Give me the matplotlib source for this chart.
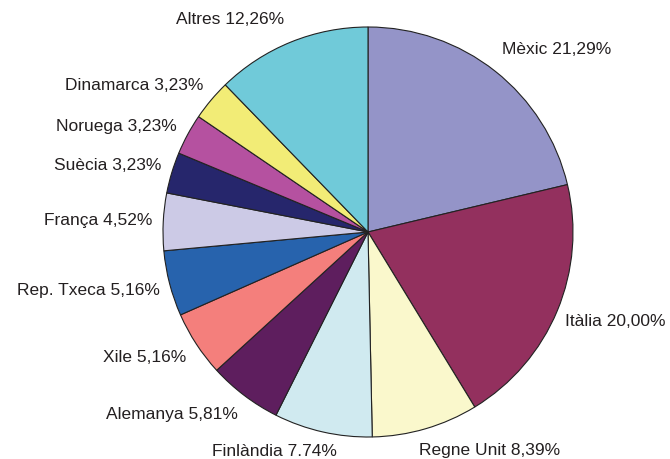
import matplotlib
matplotlib.use("Agg")
import matplotlib.pyplot as plt

# dades
paisos = ["Mèxic", "Itàlia", "Regne Unit", "Finlàndia", "Alemanya", "Xile",
          "Rep. Txeca", "França", "Suècia", "Noruega", "Dinamarca", "Altres"]
percentatges = [21.29, 20.00, 8.39, 7.74, 5.81, 5.16, 5.16, 4.52, 3.23, 3.23, 3.23, 12.26]
etiquetes_pct = ["21,29%", "20,00%", "8,39%", "7.74%", "5,81%", "5,16%",
                 "5,16%", "4,52%", "3,23%", "3,23%", "3,23%", "12,26%"]
colors = ["#9494C8", "#93305E", "#FAF8CC", "#D0EAF0", "#5E1E5E", "#F47F7C",
          "#2763AD", "#CCCAE6", "#26266C", "#B551A0", "#F2EC76", "#70CAD9"]

# posicio de les etiquetes (pixels de la imatge, centre del text)
pos_etiquetes = [(557, 50), (615, 322), (490, 450), (274, 452), (172, 414), (145, 357),
                 (88, 291), (98, 221), (108, 165), (116, 126), (134, 85), (230, 20)]

W, H = 670, 459
fig = plt.figure(figsize=(W / 100, H / 100), dpi=100)
ax = fig.add_axes([0, 0, 1, 1])

ax.pie(percentatges, colors=colors, startangle=90, counterclock=False,
       center=(368, H - 232), radius=205,
       wedgeprops=dict(edgecolor="#222222", linewidth=0.8))

for nom, pct, (x, y) in zip(paisos, etiquetes_pct, pos_etiquetes):
    ax.text(x, H - y, f"{nom} {pct}", ha="center", va="center",
            fontsize=12.5, family="Liberation Sans", color="#231F20")

ax.set_xlim(0, W)
ax.set_ylim(0, H)
ax.set_aspect("equal")
ax.axis("off")

plt.savefig("out.png", dpi=100)
